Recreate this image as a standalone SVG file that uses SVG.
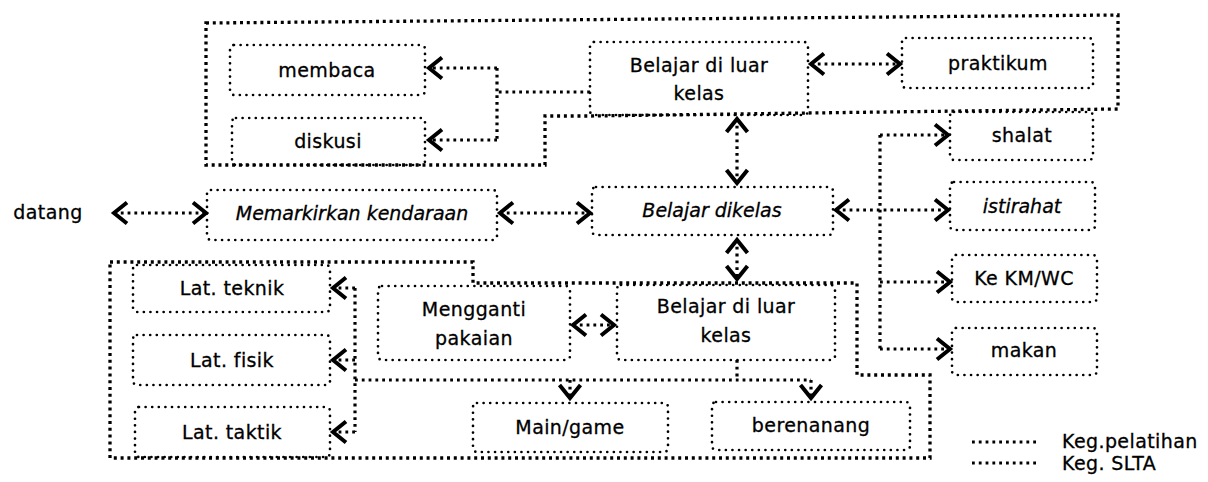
<svg xmlns="http://www.w3.org/2000/svg" width="1208" height="482" viewBox="0 0 1208 482">
  <style>
    text { font-family: "DejaVu Sans", "Liberation Sans", sans-serif; font-size: 19px; letter-spacing: 0.4px; fill: #000; stroke: #000; stroke-width: 0.3; text-anchor: middle; }
    .it { font-style: italic; letter-spacing: 0; }
    .box { fill: none; stroke: #000; stroke-width: 2.7; stroke-dasharray: 0 6.6; stroke-linecap: round; }
    .ln { fill: none; stroke: #000; stroke-width: 3.2; stroke-dasharray: 2.8 4; }
    .loop { fill: none; stroke: #000; stroke-width: 3.3; stroke-dasharray: 3 3.8; }
    .arr { marker-end: url(#chev); }
    .both { marker-start: url(#chev); marker-end: url(#chev); }
  </style>
  <defs>
    <marker id="chev" markerUnits="userSpaceOnUse" viewBox="-18 -14 20 28" refX="0" refY="0" markerWidth="20" markerHeight="28" orient="auto-start-reverse" overflow="visible">
      <path d="M-13,-10.5 L0,0 L-13,10.5" fill="none" stroke="#000" stroke-width="4" stroke-dasharray="none" stroke-linejoin="miter"/>
    </marker>
  </defs>

  <!-- enclosing loops -->
  <g id="loops">
    <path class="loop" d="M206,23 L1118,15 L1118,109 L808,113 L590,116 L545,116 L545,165 L206,165 Z"/>
    <path class="loop" d="M110,262 L473,262 L473,283 L857,283 L857,375 L930,375 L930,458 L110,458 Z"/>
  </g>

  <!-- connectors -->
  <g id="connectors">
    <path class="ln" d="M590,92 L497,92"/>
    <path class="ln" d="M497,68 L497,140"/>
    <path class="ln arr" d="M497,68 L429,68"/>
    <path class="ln arr" d="M497,140 L429,140"/>
    <path class="ln both" d="M811,64 L900,64"/>
    <path class="ln both" d="M737,119 L737,183"/>
    <path class="ln both" d="M114,213 L206,213"/>
    <path class="ln both" d="M500,213 L590,213"/>
    <path class="ln both" d="M836,210 L948,210"/>
    <path class="ln" d="M880,135 L880,349"/>
    <path class="ln arr" d="M880,135 L948,135"/>
    <path class="ln arr" d="M880,282 L950,282"/>
    <path class="ln arr" d="M880,349 L950,349"/>
    <path class="ln both" d="M737,240 L737,279"/>
    <path class="ln both" d="M573,325 L614,325"/>
    <path class="ln" d="M737,360 L737,380"/>
    <path class="ln" d="M355,380 L811,380"/>
    <path class="ln arr" d="M570,380 L570,398"/>
    <path class="ln arr" d="M811,380 L811,398"/>
    <path class="ln" d="M355,288 L355,432"/>
    <path class="ln arr" d="M355,288 L333,288"/>
    <path class="ln arr" d="M355,360 L333,360"/>
    <path class="ln arr" d="M355,432 L333,432"/>
  </g>

  <!-- nodes -->
  <g id="membaca">
    <rect class="box" x="230" y="45" width="195" height="50" rx="4"/>
    <text x="327" y="77">membaca</text>
  </g>
  <g id="diskusi">
    <rect class="box" x="232" y="118" width="193" height="47" rx="4"/>
    <text x="328" y="148">diskusi</text>
  </g>
  <g id="belajar-luar-atas">
    <rect class="box" x="590" y="42" width="218" height="73" rx="4"/>
    <text x="699" y="72">Belajar di luar</text>
    <text x="699" y="100">kelas</text>
  </g>
  <g id="praktikum">
    <rect class="box" x="902" y="38" width="191" height="50" rx="4"/>
    <text x="998" y="70">praktikum</text>
  </g>
  <g id="shalat">
    <rect class="box" x="950" y="112" width="143" height="48" rx="4"/>
    <text x="1022" y="142">shalat</text>
  </g>
  <g id="istirahat">
    <rect class="box" x="950" y="182" width="145" height="48" rx="4"/>
    <text class="it" x="1022" y="213">istirahat</text>
  </g>
  <g id="ke-km-wc">
    <rect class="box" x="952" y="255" width="145" height="47" rx="4"/>
    <text x="1024" y="285">Ke KM/WC</text>
  </g>
  <g id="makan">
    <rect class="box" x="952" y="328" width="145" height="47" rx="4"/>
    <text x="1024" y="357">makan</text>
  </g>
  <g id="datang">
    <text x="48" y="219">datang</text>
  </g>
  <g id="memarkirkan">
    <rect class="box" x="207" y="190" width="290" height="50" rx="4"/>
    <text class="it" x="352" y="220">Memarkirkan kendaraan</text>
  </g>
  <g id="belajar-dikelas">
    <rect class="box" x="592" y="187" width="241" height="48" rx="4"/>
    <text class="it" x="712" y="217">Belajar dikelas</text>
  </g>
  <g id="lat-teknik">
    <rect class="box" x="133" y="265" width="197" height="47" rx="4"/>
    <text x="232" y="295">Lat. teknik</text>
  </g>
  <g id="lat-fisik">
    <rect class="box" x="133" y="335" width="197" height="50" rx="4"/>
    <text x="232" y="367">Lat. fisik</text>
  </g>
  <g id="lat-taktik">
    <rect class="box" x="135" y="407" width="195" height="50" rx="4"/>
    <text x="232" y="439">Lat. taktik</text>
  </g>
  <g id="mengganti-pakaian">
    <rect class="box" x="378" y="286" width="192" height="74" rx="4"/>
    <text x="474" y="316">Mengganti</text>
    <text x="474" y="345">pakaian</text>
  </g>
  <g id="belajar-luar-bawah">
    <rect class="box" x="617" y="285" width="218" height="75" rx="4"/>
    <text x="726" y="313">Belajar di luar</text>
    <text x="726" y="342">kelas</text>
  </g>
  <g id="main-game">
    <rect class="box" x="473" y="403" width="195" height="49" rx="4"/>
    <text x="570" y="434">Main/game</text>
  </g>
  <g id="berenanang">
    <rect class="box" x="712" y="402" width="198" height="48" rx="4"/>
    <text x="811" y="432">berenanang</text>
  </g>

  <!-- legend -->
  <g id="legend">
    <path class="ln" d="M972,442 L1037,442"/>
    <path class="ln" d="M972,463 L1037,463"/>
    <text x="1062" y="448" style="text-anchor:start">Keg.pelatihan</text>
    <text x="1062" y="470" style="text-anchor:start">Keg. SLTA</text>
  </g>
</svg>
